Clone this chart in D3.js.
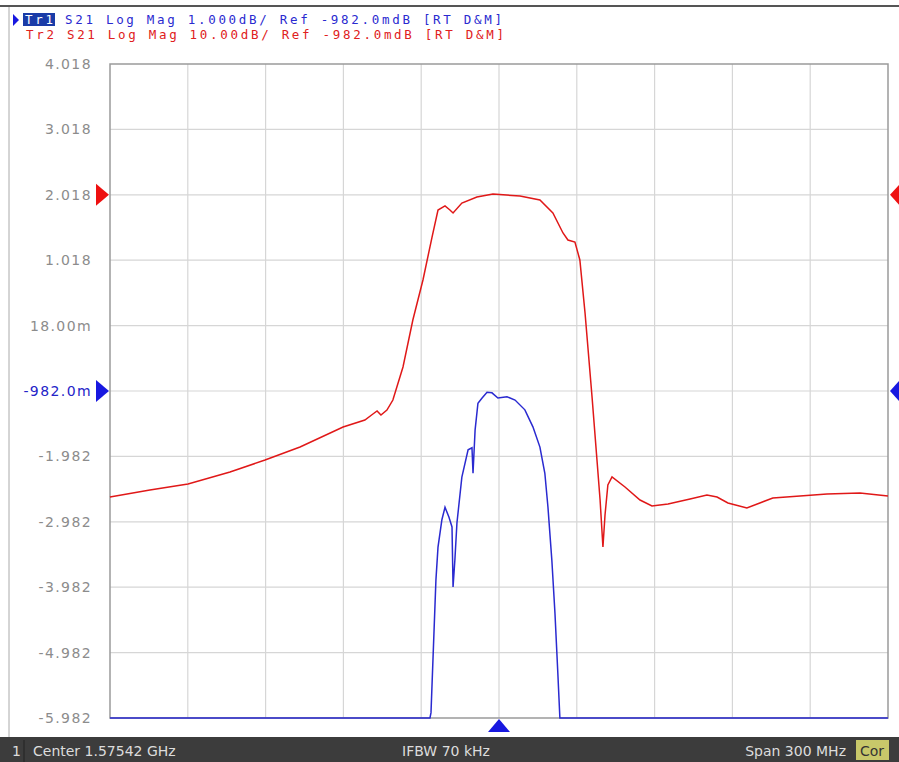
<!DOCTYPE html>
<html>
<head>
<meta charset="utf-8">
<script src="https://cdn.jsdelivr.net/npm/d3@7"></script>
<style>
  body { margin: 0; background: #fff; }
  svg { display: block; }
</style>
</head>
<body>
<svg width="899" height="762"></svg>
<script>
// frequency in MHz, S21 in dB
const centerMHz = 1575.42,
    spanMHz = 300;

const tr1Ticks = ["4.018", "3.018", "2.018", "1.018", "18.00m", "-982.0m",
    "-1.982", "-2.982", "-3.982", "-4.982", "-5.982"];

// Tr2: 10 dB/div, ref -0.982 dB at division 2 from top
const tr2Freq = [1425.4, 1440.8, 1455.5, 1471.7, 1485.2, 1498.7, 1515.3, 1523.7, 1526.8, 1528.4,
    1529.9, 1532.2, 1534.5, 1538.4, 1542.2, 1546.1, 1549.6, 1551.9, 1554.6, 1556.5,
    1557.7, 1561.1, 1566.9, 1573.1, 1583.5, 1591.2, 1596.2, 1600.1, 1602.0, 1604.7,
    1606.6, 1608.6, 1611.3, 1613.2, 1614.4, 1615.5, 1616.3, 1617.4, 1619.0, 1624.0,
    1629.8, 1634.4, 1640.6, 1649.1, 1655.6, 1659.5, 1663.7, 1671.0, 1676.0, 1681.0,
    1691.5, 1701.9, 1714.6, 1725.4];
const tr2dB = [-47.19, -46.12, -45.20, -43.37, -41.53, -39.54, -36.49, -35.42, -34.50, -34.04,
    -34.65, -33.89, -32.36, -27.31, -20.13, -14.01, -7.44, -3.31, -2.69, -3.31,
    -3.76, -2.24, -1.32, -0.86, -1.17, -1.78, -3.76, -6.82, -7.89, -8.20,
    -10.95, -19.05, -31.90, -41.53, -47.65, -54.83, -49.94, -45.35, -44.13, -45.66,
    -47.65, -48.57, -48.26, -47.50, -46.88, -47.19, -48.11, -48.87, -48.11, -47.34,
    -47.04, -46.73, -46.58, -47.04];

// Tr1: 1 dB/div, ref -0.982 dB at division 5 from top
const tr1Freq = [1425.4, 1547.0, 1548.8, 1549.2, 1551.1, 1551.9, 1553.4, 1554.6, 1556.1, 1557.3,
    1557.7, 1558.4, 1559.2, 1561.1, 1563.5, 1565.0, 1565.4, 1566.2, 1567.3, 1568.9,
    1570.8, 1572.7, 1575.0, 1578.5, 1581.6, 1585.4, 1588.5, 1591.2, 1593.1, 1594.3,
    1595.8, 1597.0, 1598.1, 1598.9, 1600.1, 1725.4];
const tr1dB = [-12, -12, -6.5, -5.9, -3.87, -3.37, -2.95, -2.76, -2.91, -3.06,
    -3.98, -3.57, -3.00, -2.30, -1.88, -1.85, -2.24, -1.58, -1.17, -1.09,
    -1.00, -1.01, -1.09, -1.07, -1.12, -1.27, -1.53, -1.84, -2.24, -2.76,
    -3.57, -4.38, -5.29, -6.5, -12, -12];

const svg = d3.select("svg");
const pLeft = 110, pRight = 888, pTop = 64, pBottom = 718;

const x = d3.scaleLinear()
    .domain([centerMHz - spanMHz / 2, centerMHz + spanMHz / 2])
    .range([pLeft, pRight]);
const y1 = d3.scaleLinear().domain([-5.982, 4.018]).range([pBottom, pTop]).clamp(true);
const y2 = d3.scaleLinear().domain([-80.982, 19.018]).range([pBottom, pTop]).clamp(true);
const yDiv = d3.scaleLinear().domain([0, 10]).range([pTop, pBottom]);
const xDiv = d3.scaleLinear().domain([0, 10]).range([pLeft, pRight]);

// frame lines
svg.append("line").attr("x1", 0).attr("x2", 899).attr("y1", 6).attr("y2", 6)
    .attr("stroke", "#555").attr("stroke-width", 2);
svg.append("line").attr("x1", 9).attr("x2", 9).attr("y1", 7).attr("y2", 738)
    .attr("stroke", "#aaa").attr("stroke-width", 1);

// grid
const grid = svg.append("g");
grid.selectAll("line.v").data(d3.range(1, 10)).join("line")
    .attr("x1", i => xDiv(i)).attr("x2", i => xDiv(i))
    .attr("y1", pTop).attr("y2", pBottom)
    .attr("stroke", "#d6d6d6").attr("stroke-width", 1.2);
grid.selectAll("line.h").data(d3.range(1, 10)).join("line")
    .attr("x1", pLeft).attr("x2", pRight)
    .attr("y1", i => yDiv(i)).attr("y2", i => yDiv(i))
    .attr("stroke", "#d6d6d6").attr("stroke-width", 1.2);
svg.append("rect").attr("x", pLeft).attr("y", pTop)
    .attr("width", pRight - pLeft).attr("height", pBottom - pTop)
    .attr("fill", "none").attr("stroke", "#9a9a9a").attr("stroke-width", 1.5);

// tick labels (Tr1 scale)
svg.append("g").selectAll("text").data(tr1Ticks).join("text")
    .attr("x", 92)
    .attr("y", (d, i) => yDiv(i) + 5)
    .attr("text-anchor", "end")
    .attr("font-family", "DejaVu Sans")
    .attr("font-size", 14)
    .attr("letter-spacing", 1.4)
    .attr("fill", d => d == "-982.0m" ? "#2424c8" : "#8c8c8c")
    .text(d => d);

// traces
const line2 = d3.line().x(d => x(d[0])).y(d => y2(d[1]));
const line1 = d3.line().x(d => x(d[0])).y(d => y1(d[1]));
svg.append("path").datum(d3.zip(tr2Freq, tr2dB)).attr("d", line2)
    .attr("fill", "none").attr("stroke", "#e01818").attr("stroke-width", 1.5);
svg.append("path").datum(d3.zip(tr1Freq, tr1dB)).attr("d", line1)
    .attr("fill", "none").attr("stroke", "#2a2ad0").attr("stroke-width", 1.5);

// reference markers
const refY2 = y2(-0.982), refY1 = y1(-0.982);
const tri = (cx, cy, dir, c) => {
    let p;
    if (dir == "r") p = [[cx - 13, cy - 11], [cx, cy], [cx - 13, cy + 11]];
    else if (dir == "l") p = [[cx + 10, cy - 11], [cx, cy], [cx + 10, cy + 11]];
    else p = [[cx - 11, cy + 13], [cx, cy], [cx + 11, cy + 13]];
    svg.append("polygon").attr("points", p.map(q => q.join(",")).join(" ")).attr("fill", c);
};
tri(pLeft - 1, refY2, "r", "#ee1010");
tri(pRight + 2, refY2, "l", "#ee1010");
tri(pLeft - 1, refY1, "r", "#1818e0");
tri(pRight + 2, refY1, "l", "#1818e0");
tri(x(centerMHz), pBottom + 1, "u", "#1818e0");

// header
svg.append("polygon").attr("points", "13,14 19,20 13,26").attr("fill", "#1818e0");
svg.append("rect").attr("x", 23).attr("y", 13).attr("width", 32).attr("height", 13).attr("fill", "#1a3ca8");
const hdr = svg.append("g").attr("font-family", "DejaVu Sans Mono").attr("font-size", 12.5)
    .attr("letter-spacing", 2.7);
hdr.append("text").attr("x", 25).attr("y", 24).attr("fill", "#ffffff").text("Tr1");
hdr.append("text").attr("x", 65).attr("y", 24).attr("fill", "#2a2ad0")
    .text("S21 Log Mag 1.000dB/ Ref -982.0mdB [RT D&M]");
hdr.append("text").attr("x", 26).attr("y", 39).attr("fill", "#e02020")
    .text("Tr2 S21 Log Mag 10.00dB/ Ref -982.0mdB [RT D&M]");

// status bar
svg.append("rect").attr("x", 0).attr("y", 737).attr("width", 899).attr("height", 25).attr("fill", "#3c3c3c");
svg.append("line").attr("x1", 24).attr("x2", 24).attr("y1", 740).attr("y2", 762).attr("stroke", "#222");
svg.append("rect").attr("x", 856).attr("y", 740).attr("width", 33).attr("height", 20).attr("fill", "#c8c86a");
const st = svg.append("g").attr("font-family", "DejaVu Sans").attr("font-size", 14).attr("fill", "#dcdcdc");
st.append("text").attr("x", 12).attr("y", 756).text("1");
st.append("text").attr("x", 33).attr("y", 756).text("Center 1.57542 GHz");
st.append("text").attr("x", 446).attr("y", 756).attr("text-anchor", "middle").text("IFBW 70 kHz");
st.append("text").attr("x", 846).attr("y", 756).attr("text-anchor", "end").text("Span 300 MHz");
st.append("text").attr("x", 872).attr("y", 756).attr("text-anchor", "middle").attr("fill", "#333").text("Cor");
</script>
</body>
</html>
